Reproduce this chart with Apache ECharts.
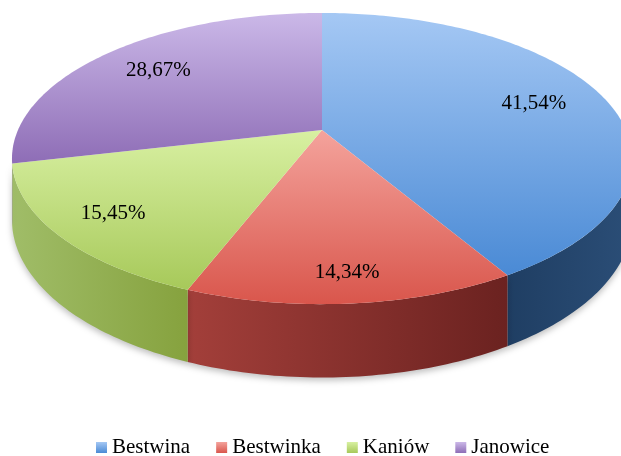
<!DOCTYPE html>
<html>
<head>
<meta charset="utf-8">
<style>
html,body{margin:0;padding:0;background:#fff}
#main{width:621px;height:456px}
</style>
<script src="https://cdn.jsdelivr.net/npm/echarts@6/dist/echarts.min.js"></script>
</head>
<body>
<div id="main"></div>
<script>
// dane
var categories = ['Bestwina', 'Bestwinka', 'Kaniów', 'Janowice'];
var shares = [41.54, 14.34, 15.45, 28.67];
// kolory: gora plastra (jasny -> ciemny), bok plastra (lewo -> prawo)
var topColors = [['#a5c8f4', '#4a8ad5'], ['#f4a39c', '#d9564c'], ['#d8f0a2', '#a7c95a'], ['#cbb8e8', '#8e6db6']];
var sideColors = [['#1f3e63', '#2b4e77'], ['#a33f3a', '#6b2220'], ['#a0bd68', '#86a23e'], ['#7a5c9e', '#6b4f8a']];

(function () {
  var myChart = echarts.init(document.getElementById('main'));
  var total = shares.reduce(function (a, b) { return a + b; }, 0);

  // geometria "3D" (perspektywa)
  var cx = 322, cy = 130, rx = 304, ry = 140, persp = 0.196, depth = 59;
  var font = '21px "Liberation Serif", serif';
  // widoczna czesc boku (od lewej do prawej krawedzi sylwetki)
  var sideFrom = Math.acos(-persp), sideTo = Math.PI * 2 - Math.acos(-persp);

  function project(theta, r, d) {
    var u = r * Math.sin(theta), v = r * Math.cos(theta);
    var s = 1 / (1 + persp * v);
    return [cx + rx * u * s, cy - ry * v * s + d * depth * s];
  }

  function angles(i) {
    var before = 0;
    for (var j = 0; j < i; j++) before += shares[j];
    return [before / total * Math.PI * 2, (before + shares[i]) / total * Math.PI * 2];
  }

  function arc(a0, a1, d) {
    var n = Math.max(2, Math.ceil((a1 - a0) / (Math.PI / 180)) + 1);
    var pts = [];
    for (var k = 0; k < n; k++) {
      pts.push(project(a0 + (a1 - a0) * k / (n - 1), 1, d));
    }
    return pts;
  }

  function grad(c, horizontal) {
    return new echarts.graphic.LinearGradient(0, 0, horizontal ? 1 : 0, horizontal ? 0 : 1, [
      { offset: 0, color: c[0] },
      { offset: 1, color: c[1] }
    ]);
  }

  function renderSlice(i) {
    return function (params, api) {
      var a = angles(i);
      var children = [];
      // bok - tylko przednia czesc
      var lo = Math.max(a[0], sideFrom), hi = Math.min(a[1], sideTo);
      if (hi > lo) {
        var topEdge = arc(lo, hi, 0);
        var bottomEdge = arc(lo, hi, 1).reverse();
        children.push({
          type: 'polygon',
          z2: 1,
          shape: { points: topEdge.concat(bottomEdge) },
          style: {
            fill: grad(sideColors[i], true),
            shadowBlur: 6,
            shadowOffsetY: 3,
            shadowColor: 'rgba(0,0,0,0.25)'
          }
        });
      }
      // gora
      children.push({
        type: 'polygon',
        z2: 5,
        shape: { points: [project(0, 0, 0)].concat(arc(a[0], a[1], 0)) },
        style: { fill: grad(topColors[i], false) }
      });
      // etykieta
      var mid = (a[0] + a[1]) / 2;
      var r = 0.75 + 0.1 * Math.max(0, -Math.cos(mid));
      var p = project(mid, r, 0);
      children.push({
        type: 'text',
        z2: 10,
        x: p[0],
        y: p[1],
        style: {
          text: shares[i].toFixed(2).replace('.', ',') + '%',
          fill: '#000',
          font: font,
          align: 'center',
          verticalAlign: 'middle'
        }
      });
      return { type: 'group', children: children };
    };
  }

  var option = {
    animation: false,
    legend: {
      left: 91,
      top: 432,
      icon: 'rect',
      itemWidth: 11,
      itemHeight: 11,
      itemGap: 26,
      textStyle: { fontFamily: '"Liberation Serif", serif', fontSize: 21, color: '#000' },
      data: categories.map(function (name, i) {
        return { name: name, itemStyle: { color: grad(topColors[i], false) } };
      })
    },
    series: categories.map(function (name, i) {
      return {
        type: 'custom',
        name: name,
        coordinateSystem: 'none',
        itemStyle: { color: topColors[i][1] },
        data: [shares[i]],
        renderItem: renderSlice(i)
      };
    })
  };

  myChart.setOption(option);
  window.addEventListener('resize', function () {
    myChart.resize();
  });
})();
</script>
</body>
</html>
